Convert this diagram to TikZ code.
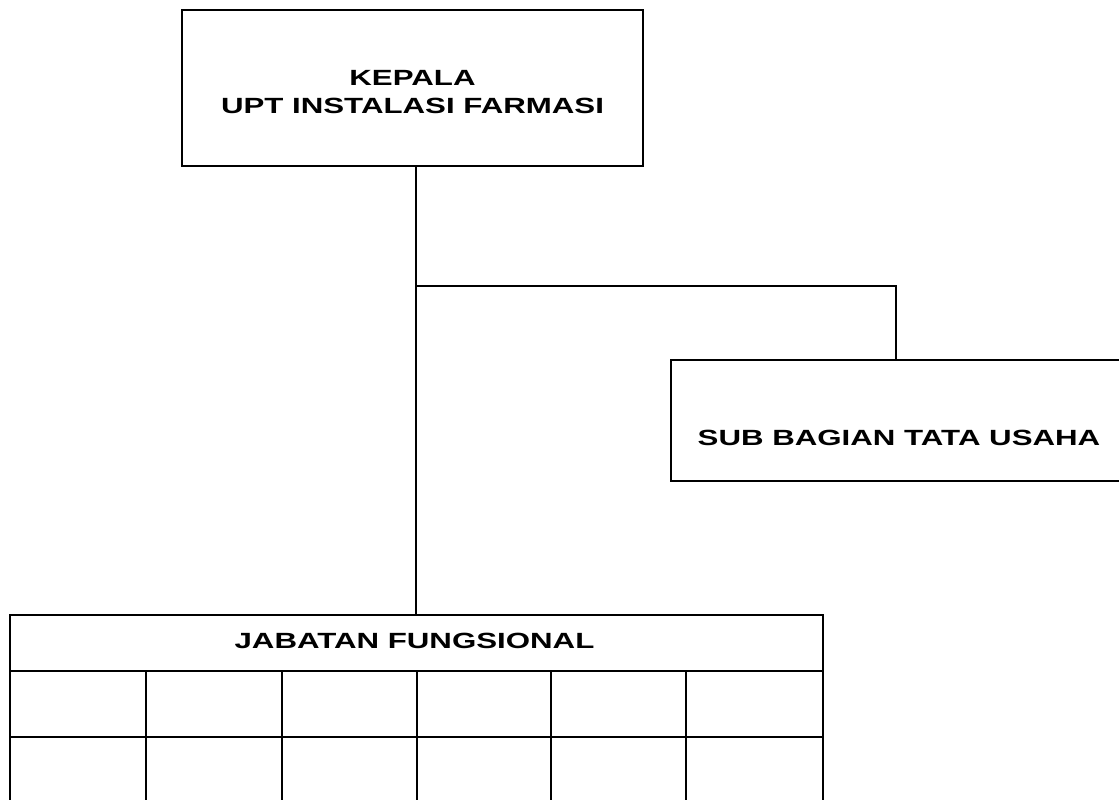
\documentclass[tikz,border=0pt]{standalone}
\usepackage{fontspec}
\setmainfont{Liberation Sans}[FakeStretch=1.42]
\begin{document}
\begin{tikzpicture}[x=1pt,y=-1pt, line width=1.3pt,
  box/.style={draw, inner sep=0pt},
  lbl/.style={font=\fontsize{22}{28}\selectfont\bfseries, inner sep=0pt, anchor=base}]
\useasboundingbox (0,0) rectangle (1119,800);
% top box
\node[box, minimum width=461, minimum height=156] (kepala) at (412.5,88) {};
\node[lbl] (kepala1) at (412.5,85) {KEPALA};
\node[lbl] (kepala2) at (412.5,113) {UPT INSTALASI FARMASI};
% sub bagian box
\node[box, minimum width=456, minimum height=121] (sub) at (899,420.5) {};
\node[lbl] (subtxt) at (899,445) {SUB BAGIAN TATA USAHA};
% table header
\node[box, minimum width=813, minimum height=56] (jab) at (416.5,643) {};
\node[lbl] (jabtxt) at (414.5,648) {JABATAN FUNGSIONAL};
% connectors
\coordinate (j) at (416,286);
\coordinate (k) at (896,286);
\draw (kepala.south -| j) -- (jab.north -| j);
\draw (j) -- (k) -- (sub.north -| k);
% table grid
\draw (10,671) -- (823,671);
\draw (10,737) -- (823,737);
\foreach \x in {10,146,282,417,551,686,823}
  \draw (\x,671) -- (\x,812);
\end{tikzpicture}
\end{document}
